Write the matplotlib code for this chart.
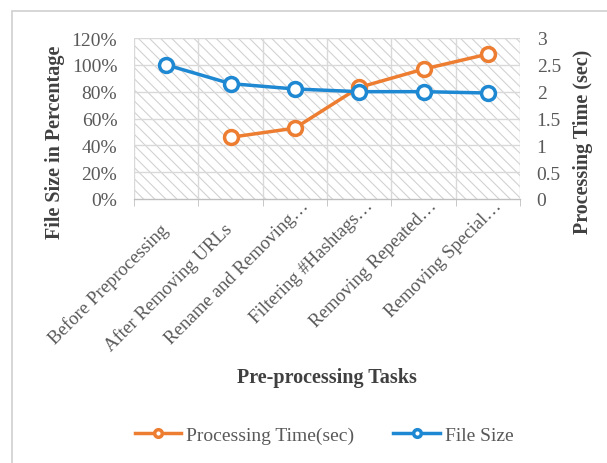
import matplotlib
matplotlib.use("Agg")
import matplotlib.pyplot as plt
from matplotlib.patches import Rectangle
from matplotlib.transforms import ScaledTranslation
import numpy as np

categories = ["Before Preprocessing", "After Removing URLs", "Rename and Removing\u2026",
              "Filtering #Hashtags\u2026", "Removing Repeated\u2026", "Removing Special\u2026"]
file_size = [100, 86, 82, 80, 80, 79]
proc_time = [np.nan, 1.15, 1.32, 2.08, 2.42, 2.70]
left_ticks = [0, 20, 40, 60, 80, 100, 120]
right_ticks = [0, 0.5, 1, 1.5, 2, 2.5, 3]

plt.rcParams['font.family'] = ['Liberation Serif', 'DejaVu Serif']
plt.rcParams['hatch.linewidth'] = 0.8
gray = '#595959'
dark = '#404040'
orange = '#ED7D31'
blue = '#1E88D2'

W, H = 607, 464
fig = plt.figure(figsize=(W / 100, H / 100), dpi=100)
fig.patches.append(Rectangle((12 / W, -0.1), 1.2, 1 - 12 / H + 0.1, transform=fig.transFigure,
                             fill=False, edgecolor='#d0d0d0', linewidth=1.2))

ax = fig.add_axes([134 / W, 1 - 200 / H, 386 / W, 161 / H])
x = np.arange(len(categories))
ax.set_xlim(-0.5, len(categories) - 0.5)
ax.set_ylim(0, 120)

bg = Rectangle((0, 0), 1, 1, transform=ax.transAxes, facecolor='white',
               edgecolor='#d2d2d2', hatch='\\\\\\', linewidth=0, zorder=0)
ax.add_patch(bg)

for yv in left_ticks[1:]:
    ax.axhline(yv, color='#d9d9d9', lw=1.0, zorder=1)
for xv in np.arange(-0.5, len(categories), 1):
    ax.axvline(xv, color='#d9d9d9', lw=1.0, zorder=1)

for name, s in ax.spines.items():
    s.set_visible(name == 'bottom')
ax.spines['bottom'].set_color('#bfbfbf')
ax.spines['bottom'].set_linewidth(1.0)

ax.set_yticks(left_ticks)
ax.set_yticklabels([f"{v}%" for v in left_ticks])
ax.set_xticks(x)
ax.set_xticklabels([])
ax.set_xticks(np.arange(-0.5, len(categories), 1), minor=True)
ax.tick_params(axis='y', length=0, colors=gray, labelsize=14, pad=12)
ax.tick_params(axis='x', which='major', length=0)
ax.tick_params(axis='x', which='minor', length=5, color='#bfbfbf', direction='out')

# rotated category labels, anchored at their upper-right end below each category
for i, lab in enumerate(categories):
    if lab.endswith('\u2026'):
        dx, dy = 5, 2      # pixels right / up from category centre at the axis
    else:
        dx, dy = -7, -21
    tr = ax.get_xaxis_transform() + ScaledTranslation(dx / 100, dy / 100, fig.dpi_scale_trans)
    ax.text(i, 0, lab, transform=tr, rotation=45, ha='right', va='top',
            rotation_mode='anchor', fontsize=13.5, color=gray, clip_on=False)

ax2 = ax.twinx()
ax2.set_ylim(0, 3)
ax2.set_yticks(right_ticks)
ax2.set_yticklabels([f"{v:g}" for v in right_ticks])
ax2.tick_params(axis='y', length=0, colors=gray, labelsize=14, pad=12)
for s in ax2.spines.values():
    s.set_visible(False)

l1, = ax2.plot(x, proc_time, color=orange, lw=2.5, marker='o', ms=10,
               mfc='white', mec=orange, mew=2.5, zorder=3, label='Processing Time(sec)')
l2, = ax2.plot(x, np.array(file_size) / 120 * 3, color=blue, lw=2.5, marker='o', ms=10,
               mfc='white', mec=blue, mew=2.5, zorder=4, label='File Size')

fig.text(55 / W, 1 - 142 / H, "File Size in Percentage", rotation=90, ha='center', va='center',
         fontsize=14.5, fontweight='bold', color=dark)
fig.text(583 / W, 1 - 142 / H, "Processing Time (sec)", rotation=90, ha='center', va='center',
         fontsize=14.5, fontweight='bold', color=dark)
fig.text(327 / W, 1 - 378 / H, "Pre-processing Tasks", ha='center', va='center',
         fontsize=14.5, fontweight='bold', color=dark)

fig.legend(handles=[l1, l2], loc='center', bbox_to_anchor=(324 / W, 1 - 436 / H), ncol=2, frameon=False,
           fontsize=14, labelcolor=gray, handlelength=2.4, columnspacing=2.0, handletextpad=0.25,
           markerscale=0.55)

fig.savefig("out.png", dpi=100)
